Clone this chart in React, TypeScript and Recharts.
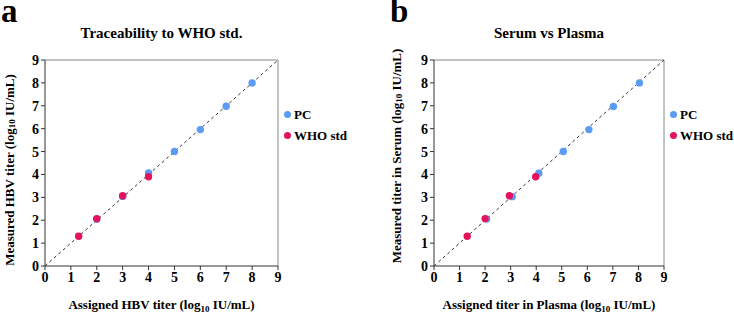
import React from 'react';
import { ScatterChart, Scatter, XAxis, YAxis, ReferenceLine } from 'recharts';

const ticks = [0, 1, 2, 3, 4, 5, 6, 7, 8, 9];

// panel a: traceability to WHO std
const whoPcX = [2, 3, 4, 5, 6, 7, 8];
const whoPcY = [2.04, 3.04, 4.06, 5.0, 5.96, 6.98, 8.0];
const whoStdX = [1.3, 2, 3, 4];
const whoStdY = [1.3, 2.07, 3.07, 3.9];

// panel b: serum vs plasma
const spPcX = [2.06, 3.06, 4.1, 5.06, 6.06, 7.02, 8.04];
const spPcY = [2.05, 3.03, 4.05, 5.0, 5.96, 6.97, 8.0];
const spStdX = [1.3, 2.0, 2.95, 3.98];
const spStdY = [1.3, 2.07, 3.07, 3.9];

const seriesNames = ['PC', 'WHO std'];
const BLUE = '#5b9cf2';
const PINK = '#e3135d';
const FONT = '"Liberation Serif", "Times New Roman", serif';

const toPoints = (xs: number[], ys: number[]) => xs.map((x, i) => ({ x, y: ys[i] }));

const Dot = (props: any) => <circle cx={props.cx} cy={props.cy} r={3.7} fill={props.fill} />;

const tickStyle = { fill: '#000', fontSize: 14, fontWeight: 700, fontFamily: FONT };

const LegendBox = ({ left }: { left: number }) => (
  <div style={{ position: 'absolute', left, top: 104, fontFamily: FONT, fontWeight: 700, fontSize: 13, color: '#000', lineHeight: '21px' }}>
    {[BLUE, PINK].map((c, i) => (
      <div key={c} style={{ display: 'flex', alignItems: 'center' }}>
        <span style={{ width: 7, height: 7, borderRadius: 4, background: c, marginRight: 3 }} />
        {seriesNames[i]}
      </div>
    ))}
  </div>
);

interface PanelProps {
  letter: string;
  title: string;
  xLabel: string;
  yLabel: string;
  pc: { x: number; y: number }[];
  who: { x: number; y: number }[];
  left: number;
  right: number;
  yLabelX: number;
  yLabelShift: number;
}

function Panel({ letter, title, xLabel, yLabel, pc, who, left, right, yLabelX, yLabelShift }: PanelProps) {
  const plotW = 367 - left - right;
  return (
    <div style={{ position: 'relative', width: 367, height: 315 }}>
      <div style={{ position: 'absolute', left: letter === 'a' ? 1 : 23, top: 0, lineHeight: '22px', fontFamily: FONT, fontWeight: 700, fontSize: 33 }}>{letter}</div>
      <div style={{ position: 'absolute', left: left, width: plotW, top: 25, textAlign: 'center', fontFamily: FONT, fontWeight: 700, fontSize: 15 }}>{title}</div>
      <ScatterChart width={367} height={315} margin={{ top: 60, right: right, bottom: 19, left: left - 40 }}>
        <XAxis
          type="number"
          dataKey="x"
          domain={[0, 9]}
          ticks={ticks}
          interval={0}
          tickSize={4}
          tick={tickStyle}
          axisLine={{ stroke: '#333' }}
          tickLine={{ stroke: '#333' }}
          height={30}
          label={{
            content: ({ viewBox }: any) => (
              <text x={viewBox.x + viewBox.width / 2} y={309} textAnchor="middle" fontFamily={FONT} fontWeight={700} fontSize={13} fill="#000">
                {xLabel}(log<tspan fontSize={9} dy={3}>10</tspan><tspan dy={-3}> IU/mL)</tspan>
              </text>
            ),
          }}
        />
        <YAxis
          type="number"
          dataKey="y"
          domain={[0, 9]}
          ticks={ticks}
          interval={0}
          tickSize={4}
          tick={tickStyle}
          axisLine={{ stroke: '#333' }}
          tickLine={{ stroke: '#333' }}
          width={40}
          label={{
            content: ({ viewBox }: any) => {
              const cy = viewBox.y + viewBox.height / 2 + yLabelShift;
              return (
                <text x={yLabelX} y={cy} transform={`rotate(-90, ${yLabelX}, ${cy})`} textAnchor="middle" dominantBaseline="central" fontFamily={FONT} fontWeight={700} fontSize={13} fill="#000">
                  {yLabel}(log<tspan fontSize={9} dy={3}>10</tspan><tspan dy={-3}> IU/mL)</tspan>
                </text>
              );
            },
          }}
        />
        <ReferenceLine y={9} stroke="#888" strokeWidth={1} />
        <ReferenceLine x={9} stroke="#888" strokeWidth={1} />
        <ReferenceLine segment={[{ x: 0, y: 0 }, { x: 9, y: 9 }]} stroke="#333" strokeDasharray="3 3" strokeWidth={1} />
        <Scatter name={seriesNames[0]} data={pc} fill={BLUE} shape={Dot} isAnimationActive={false} />
        <Scatter name={seriesNames[1]} data={who} fill={PINK} shape={Dot} isAnimationActive={false} />
      </ScatterChart>
      <LegendBox left={367 - right + 6} />
    </div>
  );
}

export default function App() {
  return (
    <div style={{ position: 'absolute', left: 0, top: 0, width: 734, height: 315, display: 'flex', background: '#fff' }}>
      <Panel
        letter="a"
        title="Traceability to WHO std."
        xLabel="Assigned HBV titer "
        yLabel="Measured HBV titer "
        pc={toPoints(whoPcX, whoPcY)}
        who={toPoints(whoStdX, whoStdY)}
        left={45}
        right={89}
        yLabelX={9}
        yLabelShift={7}
      />
      <Panel
        letter="b"
        title="Serum vs Plasma"
        xLabel="Assigned titer in Plasma "
        yLabel="Measured titer in Serum "
        pc={toPoints(spPcX, spPcY)}
        who={toPoints(spStdX, spStdY)}
        left={67}
        right={70}
        yLabelX={29}
        yLabelShift={-7}
      />
    </div>
  );
}
